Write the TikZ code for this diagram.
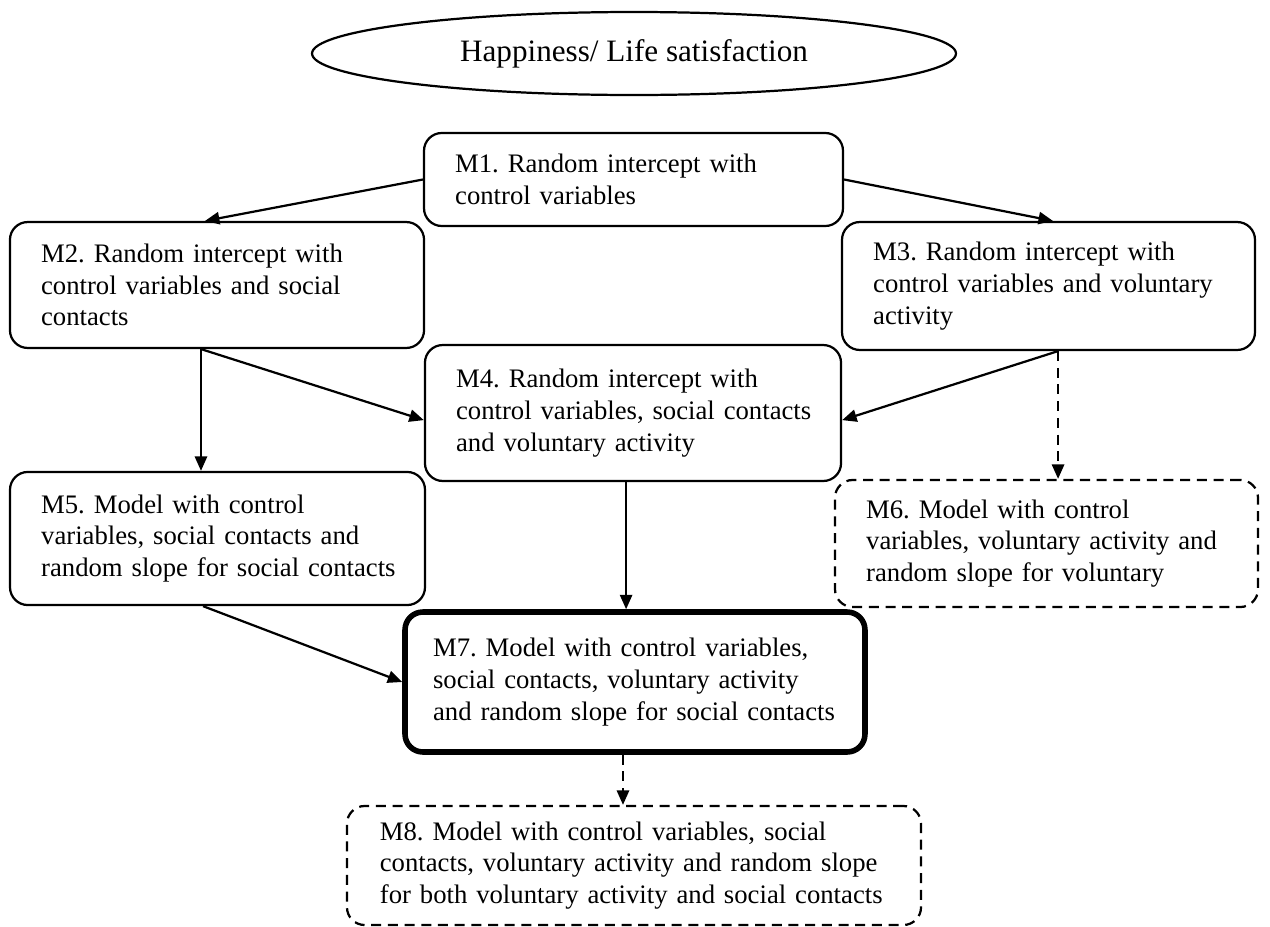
\documentclass[tikz,border=0pt]{standalone}
\usepackage{fontspec}
\setmainfont{Liberation Serif}
\frenchspacing
\usetikzlibrary{shapes.geometric,arrows.meta,calc}
\newcommand{\tl}[1]{\mbox{#1}}
\begin{document}
\begin{tikzpicture}[x=0.4494pt,y=-0.4494pt,
  every node/.style={font=\fontsize{12}{14.25}\selectfont},
  mbox/.style={draw, line width=1pt, rounded corners=8pt, align=left, inner xsep=14pt, inner ysep=2pt},
  dbox/.style={mbox, dash pattern=on 4.5pt off 3pt},
  arr/.style={-{Triangle[length=6.5pt,width=5.5pt]}, line width=1pt},
  darr/.style={arr, dash pattern=on 4.5pt off 3pt}]
\useasboundingbox (0,0) rectangle (1270,927);
\node[draw, ellipse, line width=1pt, minimum width=289.4pt, minimum height=37.3pt, inner sep=0pt, font=\fontsize{14}{16}\selectfont] (H) at (634,53.5) {Happiness/ Life satisfaction};
\node[mbox, text width=160.3pt, minimum height=41.8pt] (M1) at (633.5,179.5) {\tl{M1. Random intercept with}\\\tl{control variables}};
\node[mbox, text width=158.1pt, minimum height=56.6pt] (M2) at (217,285) {\tl{M2. Random intercept with}\\\tl{control variables and social}\\\tl{contacts}};
\node[mbox, text width=157.6pt, minimum height=57.5pt] (M3) at (1048.5,286) {\tl{M3. Random intercept with}\\\tl{control variables and voluntary}\\\tl{activity}};
\node[mbox, text width=159pt, minimum height=61.1pt] (M4) at (633,413) {\tl{M4. Random intercept with}\\\tl{control variables, social contacts}\\\tl{and voluntary activity}};
\node[mbox, text width=158.5pt, minimum height=59.8pt] (M5) at (217.5,538.5) {\tl{M5. Model with control}\\\tl{variables, social contacts and}\\\tl{random slope for social contacts}};
\node[dbox, text width=162.1pt, minimum height=57.1pt] (M6) at (1046.5,543.5) {\tl{M6. Model with control}\\\tl{variables, voluntary activity and}\\\tl{random slope for voluntary}};
\node[mbox, line width=2.5pt, inner xsep=12.6pt, text width=181.5pt, minimum height=62.9pt] (M7) at (635,682) {\tl{M7. Model with control variables,}\\\tl{social contacts, voluntary activity}\\\tl{and random slope for social contacts}};
\node[dbox, inner xsep=14.8pt, text width=228.4pt, minimum height=53.5pt] (M8) at (634,865.5) {\tl{M8. Model with control variables, social}\\\tl{contacts, voluntary activity and random slope}\\\tl{for both voluntary activity and social contacts}};

\coordinate (m2s) at ([xshift=-7.2pt]M2.south);
\coordinate (m3s) at ([xshift=4.3pt]M3.south);
\coordinate (m4s) at ([xshift=-3.1pt]M4.south);
\coordinate (m5s) at ([xshift=-6.5pt]M5.south);
\coordinate (m7s) at ([xshift=-5.4pt]M7.south);

\draw[arr] (M1.west) -- ([xshift=-5.4pt]M2.north);
\draw[arr] (M1.east) -- ([xshift=2pt]M3.north);
\draw[arr] (m2s) -- ([yshift=-3.2pt]M4.west);
\draw[arr] (m2s) -- (m2s |- M5.north);
\draw[arr] (m3s) -- ([yshift=-3.2pt]M4.east);
\draw[darr] (m3s) -- (m3s |- M6.north);
\draw[arr] (m4s) -- (m4s |- M7.north);
\draw[arr] (m5s) -- (M7.west);
\draw[darr] (m7s) -- (m7s |- M8.north);
\end{tikzpicture}
\end{document}
